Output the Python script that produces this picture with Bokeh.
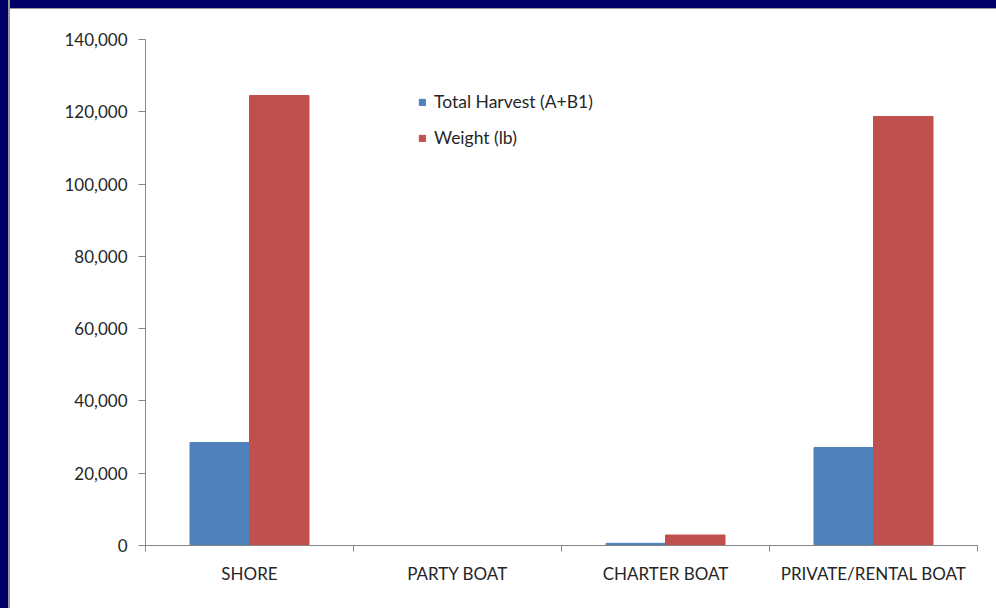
from bokeh.plotting import figure
from bokeh.models import (ColumnDataSource, FixedTicker, NumeralTickFormatter, Legend,
                          LegendItem, Div, Range1d)
from bokeh.layouts import row, column
from bokeh.transform import dodge
from bokeh.embed import file_html
from bokeh.resources import INLINE

categories = ["SHORE", "PARTY BOAT", "CHARTER BOAT", "PRIVATE/RENTAL BOAT"]
total_harvest = [28500, 0, 600, 27100]
weight_lb = [124500, 0, 2900, 118700]
series_names = ["Total Harvest (A+B1)", "Weight (lb)"]
y_ticks = [0, 20000, 40000, 60000, 80000, 100000, 120000, 140000]

FONT = "Lato"
TEXT = "#262626"
AXIS = "#868686"

pos = [i + 0.5 for i in range(len(categories))]
src = ColumnDataSource(dict(x=pos, harvest=total_harvest, weight=weight_lb))

p = figure(width=986, height=599, output_backend="svg", toolbar_location=None,
           x_range=Range1d(0, len(categories)), y_range=Range1d(0, 140000),
           min_border_left=135, min_border_right=19, min_border_top=30, min_border_bottom=63,
           margin=(0, 0, 0, 0))
p.outline_line_color = None
p.xgrid.visible = False
p.ygrid.visible = False
p.background_fill_color = "white"
p.border_fill_color = "white"

bw = 0.286
r1 = p.vbar(x=dodge("x", -bw / 2, range=p.x_range), top="harvest", width=bw, source=src,
            fill_color="#4F81BD", line_color="#4F81BD")
r2 = p.vbar(x=dodge("x", bw / 2, range=p.x_range), top="weight", width=bw, source=src,
            fill_color="#C0504D", line_color="#C0504D")

# x axis: labels at category centres, ticks at category boundaries
xa = p.xaxis[0]
xa.ticker = FixedTicker(ticks=pos, minor_ticks=list(range(len(categories) + 1)))
xa.major_label_overrides = {p_: c for p_, c in zip(pos, categories)}
xa.major_tick_line_color = None
xa.major_tick_out = 0
xa.major_tick_in = 0
xa.minor_tick_out = 6
xa.minor_tick_in = 0
xa.minor_tick_line_color = AXIS
xa.axis_line_color = AXIS
xa.major_label_standoff = 11
xa.major_label_text_font = FONT
xa.major_label_text_font_size = "17px"
xa.major_label_text_color = TEXT

ya = p.yaxis[0]
ya.ticker = FixedTicker(ticks=y_ticks, minor_ticks=[])
ya.formatter = NumeralTickFormatter(format="0,0")
ya.major_tick_out = 7
ya.major_tick_in = 0
ya.major_tick_line_color = AXIS
ya.minor_tick_line_color = None
ya.axis_line_color = AXIS
ya.major_label_standoff = 11
ya.major_label_text_font = FONT
ya.major_label_text_font_size = "17px"
ya.major_label_text_color = TEXT

legend = Legend(items=[LegendItem(label=series_names[0], renderers=[r1]),
                       LegendItem(label=series_names[1], renderers=[r2])],
                location=(273, 397), orientation="vertical",
                glyph_width=8, glyph_height=8, label_standoff=8,
                label_height=20, spacing=15, padding=0, margin=0,
                border_line_color=None, background_fill_alpha=0,
                label_text_font=FONT, label_text_font_size="17.5px",
                label_text_color=TEXT)
p.add_layout(legend, "center")

navy = "#000066"
gray = "#9a9a9a"
m0 = (0, 0, 0, 0)
left_navy = Div(width=8, height=608, margin=m0, styles={"background-color": navy})
left_gray = Div(width=2, height=608, margin=m0, styles={"background-color": gray})
top_navy = Div(width=986, height=8, margin=m0, styles={"background-color": navy})
top_gray = Div(width=986, height=1, margin=m0, styles={"background-color": gray})

layout = row(left_navy, left_gray,
             column(top_navy, top_gray, p, spacing=0, margin=m0),
             spacing=0, margin=m0)

open("out.html", "w").write(file_html(layout, INLINE))
